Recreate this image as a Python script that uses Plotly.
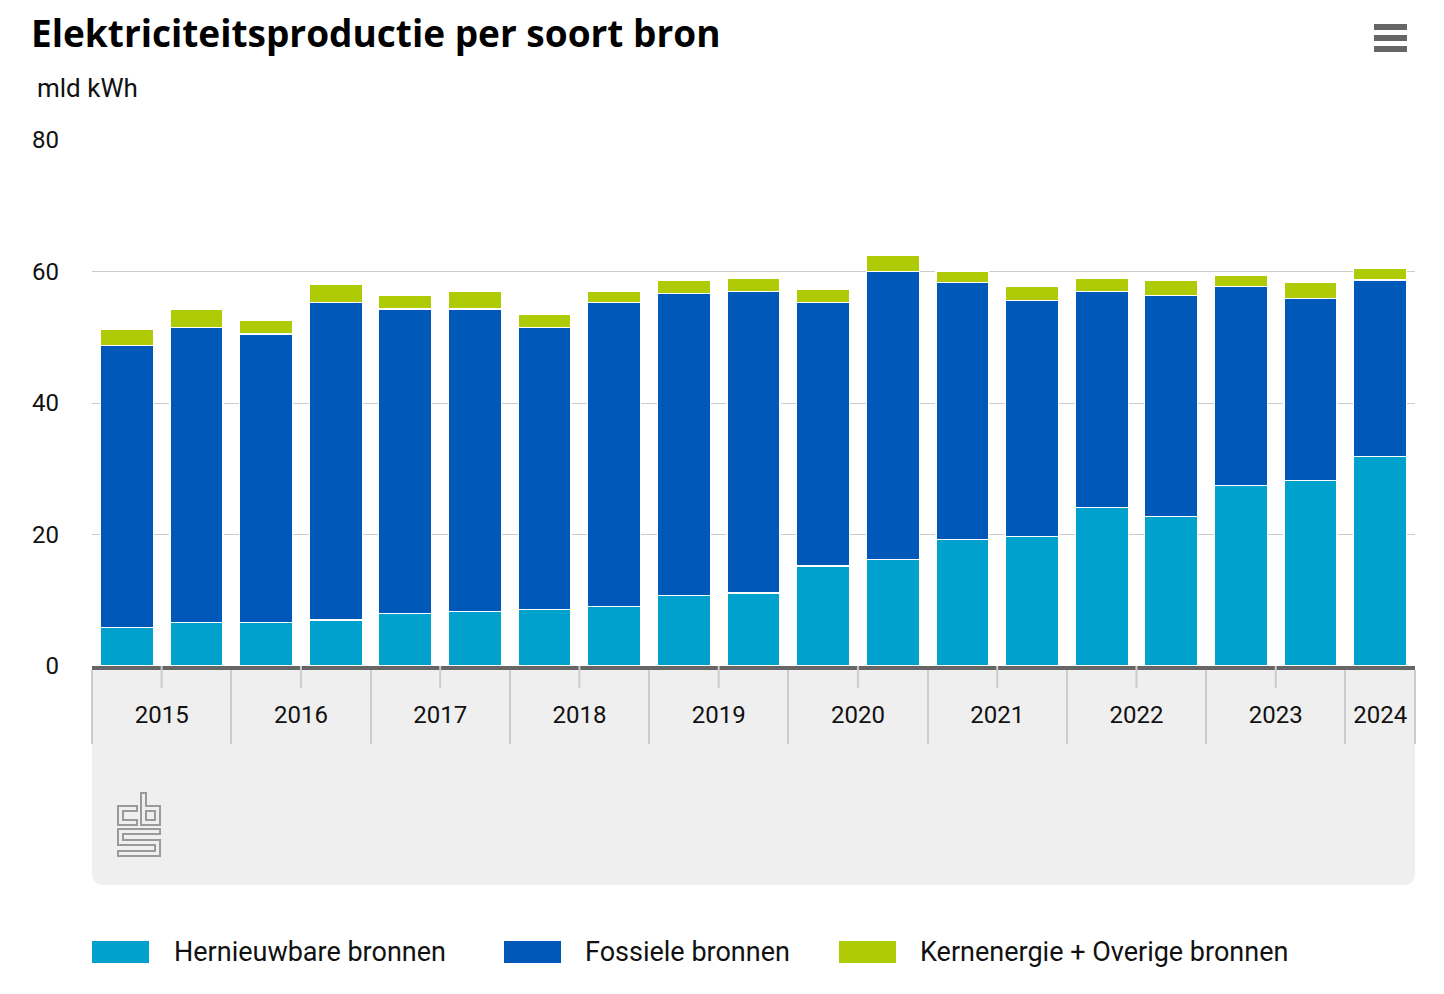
import plotly.graph_objects as go

# ---------------- data ----------------
periods = ["2015 H1", "2015 H2", "2016 H1", "2016 H2", "2017 H1", "2017 H2",
           "2018 H1", "2018 H2", "2019 H1", "2019 H2", "2020 H1", "2020 H2",
           "2021 H1", "2021 H2", "2022 H1", "2022 H2", "2023 H1", "2023 H2",
           "2024 H1"]
years = ["2015", "2016", "2017", "2018", "2019", "2020", "2021", "2022", "2023", "2024"]

hernieuwbaar = [5.9, 6.6, 6.6, 7.0, 8.0, 8.3, 8.6, 9.0, 10.7, 11.1,
                15.2, 16.2, 19.3, 19.7, 24.1, 22.7, 27.5, 28.2, 31.9]
fossiel = [42.8, 44.9, 43.9, 48.3, 46.3, 46.0, 42.9, 46.3, 46.0, 45.9,
           40.1, 43.8, 39.0, 35.9, 32.9, 33.6, 30.2, 27.7, 26.8]
kern_overig = [2.5, 2.8, 2.0, 2.7, 2.0, 2.7, 2.0, 1.7, 2.0, 2.0,
               2.0, 2.5, 1.7, 2.1, 2.0, 2.4, 1.7, 2.4, 1.7]

series_names = ["Hernieuwbare bronnen", "Fossiele bronnen", "Kernenergie + Overige bronnen"]
series_colors = ["#00a1cd", "#0058b8", "#afcb05"]
series_values = [hernieuwbaar, fossiel, kern_overig]

y_ticks = [0, 20, 40, 60, 80]

# ---------------- geometry helpers ----------------
W, H = 1444, 994
OFF = 8  # page body margin in the screenshot
L, R, T, B = 92 - OFF, 1415 - OFF, 140 - OFF, 666 - OFF
PW, PH = R - L, B - T


def px(x, y):
    """screen pixel -> paper coordinates"""
    return (x - OFF - L) / PW, (B - (y - OFF)) / PH


xs = list(range(len(periods)))
year_idx = {yv: [i for i, p in enumerate(periods) if p.startswith(yv)] for yv in years}
year_centers = [sum(v) / len(v) for v in year_idx.values()]
boundaries = [min(v) - 0.5 for v in year_idx.values()] + [max(xs) + 0.5]
short_ticks = [c for c, v in zip(year_centers, year_idx.values()) if len(v) > 1]

fig = go.Figure()
for name, color, vals in zip(series_names, series_colors, series_values):
    fig.add_trace(go.Bar(x=xs, y=vals, name=name,
                         marker=dict(color=color, line=dict(color="white", width=1.2)),
                         showlegend=False))

shapes = []
# grey panel below the axis with rounded bottom corners
x0, y0 = px(92, 666)
x1, y1 = px(1415, 885)
r = 12
xr0, _ = px(92 + r, 0)
xr1, _ = px(1415 - r, 0)
_, yr = px(0, 885 - r)
shapes.append(dict(type="path", xref="paper", yref="paper", layer="below",
                   path=f"M{x0},{y0} L{x1},{y0} L{x1},{yr} Q{x1},{y1} {xr1},{y1} L{xr0},{y1} Q{x0},{y1} {x0},{yr} Z",
                   fillcolor="#efefef", line=dict(width=0)))
# short ticks at year centres
for c in short_ticks:
    shapes.append(dict(type="line", xref="x", yref="paper", x0=c, x1=c, y0=0, y1=px(0, 688)[1],
                       line=dict(color="#cccccc", width=2)))

# hamburger icon
for yy in [27, 38, 49]:
    a0, b0 = px(1374, yy)
    a1, _ = px(1407, yy)
    shapes.append(dict(type="line", xref="paper", yref="paper", x0=a0, x1=a1, y0=b0, y1=b0,
                       line=dict(color="#666666", width=6)))


def poly(points):
    pts = [px(x, y) for x, y in points]
    return "M" + " L".join(f"{a},{b}" for a, b in pts) + " Z"


logo = [
    [(137, 806), (118, 806), (118, 825), (137, 825), (137, 820), (123, 820), (123, 811), (137, 811)],
    [(141, 793), (146, 793), (146, 806), (160, 806), (160, 825), (141, 825)],
    [(146, 811), (155, 811), (155, 820), (146, 820)],
    [(160, 829), (118, 829), (118, 845), (155, 845), (155, 851), (118, 851), (118, 856), (160, 856),
     (160, 840), (123, 840), (123, 834), (160, 834)],
]
for pl in logo:
    shapes.append(dict(type="path", xref="paper", yref="paper", path=poly(pl),
                       line=dict(color="#9a9a9a", width=2), fillcolor="rgba(0,0,0,0)"))

# manual legend
legend_x = [(92, 172), (504, 583), (839, 918)]
annotations = []
for (sx, tx), name, color in zip(legend_x, series_names, series_colors):
    a0, b0 = px(sx, 941)
    a1, b1 = px(sx + 57, 963)
    shapes.append(dict(type="rect", xref="paper", yref="paper", x0=a0, x1=a1, y0=b0, y1=b1,
                       fillcolor=color, line=dict(width=0)))
    ax_, ay_ = px(tx, 952)
    annotations.append(dict(text=name, x=ax_, y=ay_, xref="paper", yref="paper", xanchor="left",
                            yanchor="middle", showarrow=False, font=dict(size=27, color="#111111")))

ux, uy = px(35, 88)
annotations.append(dict(text="mld kWh", x=ux, y=uy, xref="paper", yref="paper", xanchor="left",
                        yanchor="middle", showarrow=False, font=dict(size=26, color="#111111")))

fig.update_layout(
    width=W, height=H,
    margin=dict(l=L, r=W - R, t=T, b=H - B, pad=0),
    paper_bgcolor="white", plot_bgcolor="white",
    barmode="stack", bargap=0.24,
    font=dict(family="Roboto, sans-serif", color="#111111"),
    title=dict(text="<b>Elektriciteitsproductie per soort bron</b>", x=(31 - OFF) / W, xanchor="left",
               xref="container", y=1 - (34 - OFF) / H, yref="container", yanchor="middle",
               font=dict(size=37, color="#000000", family="Open Sans, sans-serif")),
    shapes=shapes, annotations=annotations,
    xaxis=dict(range=[-0.5, max(xs) + 0.5], tickmode="array", tickvals=year_centers, ticktext=years,
               ticks="", tickfont=dict(size=24, color="#111111"), ticklabelstandoff=24,
               showline=True, linecolor="#666666", linewidth=3.5, showgrid=False, zeroline=False,
               minor=dict(tickmode="array", tickvals=boundaries, ticks="outside", ticklen=74,
                          tickcolor="#cccccc", tickwidth=2, showgrid=False)),
    yaxis=dict(range=[0, 80], tickmode="array", tickvals=y_ticks, ticks="", showline=False,
               gridcolor="#cccccc", gridwidth=1, zeroline=False,
               tickfont=dict(size=24, color="#111111"), ticklabelstandoff=32),
)

fig.write_html("out.html")
